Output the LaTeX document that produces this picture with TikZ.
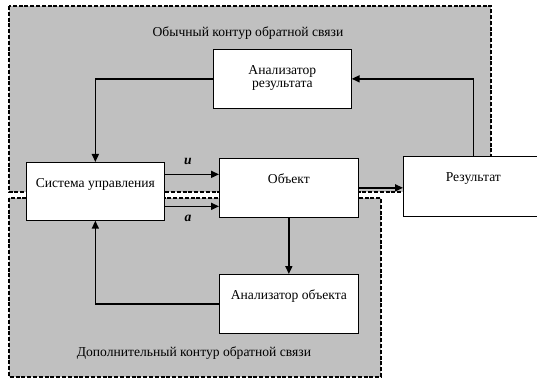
\documentclass[tikz,border=0pt]{standalone}
\usepackage{fontspec}
\setmainfont{Liberation Serif}
\usetikzlibrary{arrows.meta}
\definecolor{regiongray}{RGB}{192,192,192}
\tikzset{
  region/.style={fill=regiongray, draw=black, line width=1.3pt, dash pattern=on 4pt off 1.8pt},
  block/.style={draw=black, line width=0.7pt, fill=white, inner sep=0pt, anchor=north west},
  arr/.style={line width=1.6pt, -{Triangle[length=8pt,width=7pt]}},
  lbl/.style={inner sep=0pt, font=\fontsize{13.6}{13.5}\selectfont}
}
\newcommand{\boxtext}[3]{\parbox[c][#2][t]{#1}{\centering\fontsize{13.6}{13.5}\selectfont\rule{0pt}{25pt}#3}}
\begin{document}
\begin{tikzpicture}[x=1pt,y=-1pt]
\clip (0,0) rectangle (537,379);
\fill[white] (0,0) rectangle (537,379);
% regions
\draw[region] (9,6) rectangle (491,192);
\draw[region] (9,198) rectangle (381,377);
\node[lbl] (t1) at (248,33) {Обычный контур обратной связи};
\node[lbl] (t2) at (194,353) {Дополнительный контур обратной связи};
% blocks
\node[block, minimum width=138pt, minimum height=59pt] (AR) at (213,49) {\boxtext{138pt}{59pt}{Анализатор\\результата}};
\node[block, minimum width=138pt, minimum height=58pt] (Sys) at (26,162) {\boxtext{138pt}{58pt}{Система управления}};
\node[block, minimum width=139pt, minimum height=59pt] (Obj) at (219,158) {\boxtext{139pt}{59pt}{Объект}};
\node[block, minimum width=140pt, minimum height=60pt] (Res) at (403,156) {\boxtext{140pt}{60pt}{Результат}};
\node[block, minimum width=139pt, minimum height=59pt] (AO) at (219,274) {\boxtext{139pt}{59pt}{Анализатор объекта}};
% connectors
\draw[arr] (AR.west) -| (Sys.north);
\draw[arr] (Res.north) |- (AR.east);
\draw[arr] ([yshift=17pt]Sys.east) -- ([yshift=17pt]Sys.east -| Obj.west);
\draw[arr] ([yshift=-15pt]Sys.east) -- ([yshift=-15pt]Sys.east -| Obj.west);
\draw[arr] (Obj.east) -- (Obj.east -| Res.west);
\draw[arr] (Obj.south) -- (AO.north);
\draw[arr] (AO.west) -| (Sys.south);
% signal labels
\node[lbl] (u) at (188,161) {\textbf{\textit{u}}};
\node[lbl] (a) at (188,218) {\textbf{\textit{a}}};
\end{tikzpicture}
\end{document}
